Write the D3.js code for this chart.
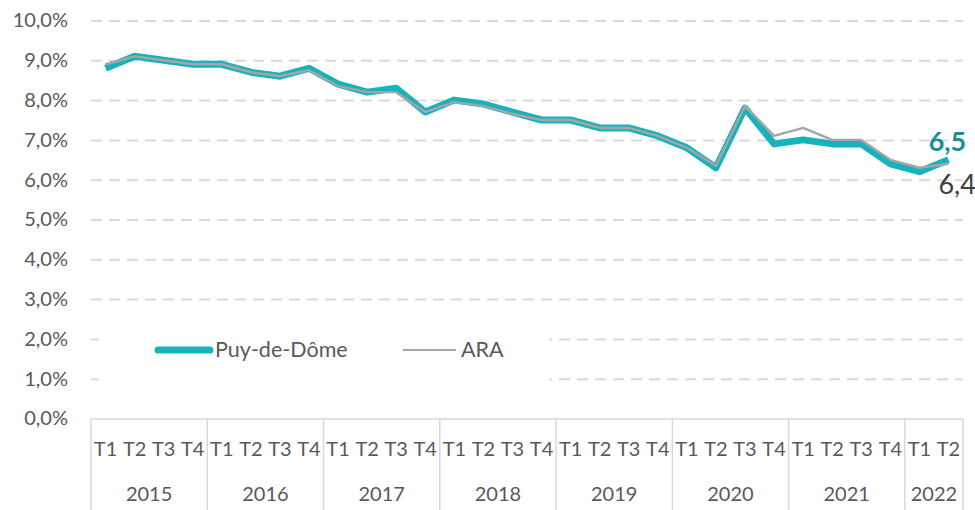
<!DOCTYPE html>
<html>
    <head>
        <meta charset="utf-8"/>
        <script src="https://d3js.org/d3.v7.min.js"></script>
        <style>
            body { margin: 0; background: #fff; }
            text { font-family: Lato, "Noto Sans", sans-serif; fill: #595959; }
        </style>
    </head>
    <body>
        <div id="chart"></div>
        <script type="text/javascript">
            // Years and how many quarters each one has on the axis
            var years = ["2015", "2016", "2017", "2018", "2019", "2020", "2021", "2022"];
            var quartersPerYear = [4, 4, 4, 4, 4, 4, 4, 2];
            var quarterLabels = ["T1", "T2", "T3", "T4"];

            // Unemployment rate, in %
            var puyDeDome = [8.8, 9.1, 9.0, 8.9, 8.9, 8.7, 8.6, 8.8, 8.4, 8.2, 8.3, 7.7,
                             8.0, 7.9, 7.7, 7.5, 7.5, 7.3, 7.3, 7.1, 6.8, 6.3, 7.8, 6.9,
                             7.0, 6.9, 6.9, 6.4, 6.2, 6.5];
            var ara = [8.9, 9.1, 9.0, 8.9, 8.9, 8.7, 8.6, 8.75, 8.35, 8.2, 8.2, 7.7,
                       7.95, 7.85, 7.65, 7.5, 7.5, 7.3, 7.3, 7.1, 6.8, 6.35, 7.85, 7.1,
                       7.3, 7.0, 7.0, 6.5, 6.3, 6.4];
            var yTicks = [0, 1, 2, 3, 4, 5, 6, 7, 8, 9, 10];

            var width = 975, height = 510;
            var plotLeft = 91, plotRight = 963, plotTop = 20.5, plotBottom = 418.5;

            var categories = [];
            years.forEach(function(yr, i) {
                for (var q = 0; q < quartersPerYear[i]; q++) categories.push(yr + " " + quarterLabels[q]);
            });

            var fr = d3.formatLocale({decimal: ",", thousands: " ", grouping: [3], currency: ["", " €"]});
            var pct = fr.format(".1f");

            var x = d3.scaleBand().domain(categories).range([plotLeft, plotRight]);
            var y = d3.scaleLinear().domain([0, 10]).range([plotBottom, plotTop]);

            var svg = d3.select("#chart").append("svg")
                .attr("width", width)
                .attr("height", height);

            // y axis with dashed grid
            var yAxis = svg.append("g")
                .attr("transform", "translate(" + plotLeft + ",0)")
                .call(d3.axisLeft(y).tickValues(yTicks)
                    .tickSize(-(plotRight - plotLeft))
                    .tickPadding(23)
                    .tickFormat(function(d) { return pct(d) + "%"; }));
            yAxis.select(".domain").remove();
            yAxis.selectAll(".tick line")
                .attr("stroke", "#d9d9d9")
                .attr("stroke-width", 2)
                .attr("stroke-dasharray", "11,7")
                .attr("display", function(d) { return d === 0 ? "none" : null; });
            yAxis.selectAll(".tick text")
                .attr("fill", "#595959")
                .style("font-size", "20px");

            // x axis: quarters
            var xAxis = svg.append("g")
                .attr("transform", "translate(0," + plotBottom + ")")
                .call(d3.axisBottom(x).tickSize(0).tickPadding(23)
                    .tickFormat(function(d) { return d.split(" ")[1]; }));
            xAxis.select(".domain").attr("stroke", "#d9d9d9").attr("stroke-width", 1.5);
            xAxis.selectAll(".tick text")
                .attr("fill", "#595959")
                .style("font-size", "20px");

            // year groups
            var start = 0;
            var groups = years.map(function(yr, i) {
                var g = {year: yr, first: categories[start], last: categories[start + quartersPerYear[i] - 1]};
                start += quartersPerYear[i];
                return g;
            });
            svg.append("g").selectAll("line")
                .data([groups[0].first].concat(groups.map(function(g) { return g.last; })))
                .enter().append("line")
                .attr("x1", function(d, i) { return i === 0 ? x(d) : x(d) + x.bandwidth(); })
                .attr("x2", function(d, i) { return i === 0 ? x(d) : x(d) + x.bandwidth(); })
                .attr("y1", plotBottom)
                .attr("y2", height)
                .attr("stroke", "#d9d9d9")
                .attr("stroke-width", 1.5);
            svg.append("g").selectAll("text")
                .data(groups)
                .enter().append("text")
                .attr("x", function(g) { return (x(g.first) + x(g.last) + x.bandwidth()) / 2; })
                .attr("y", 501)
                .attr("text-anchor", "middle")
                .style("font-size", "20px")
                .text(function(g) { return g.year; });

            // legend box (hides the grid behind it)
            var legend = svg.append("g");
            legend.append("rect")
                .attr("x", 99).attr("y", 310).attr("width", 450).attr("height", 82)
                .attr("fill", "#fff");
            legend.append("line")
                .attr("x1", 158).attr("x2", 210).attr("y1", 350).attr("y2", 350)
                .attr("stroke", "#17b3bc").attr("stroke-width", 7).attr("stroke-linecap", "round");
            legend.append("text").attr("x", 215).attr("y", 357).style("font-size", "21.5px").text("Puy-de-Dôme");
            legend.append("line")
                .attr("x1", 403).attr("x2", 456).attr("y1", 350).attr("y2", 350)
                .attr("stroke", "#a5a5a5").attr("stroke-width", 2);
            legend.append("text").attr("x", 461).attr("y", 357).style("font-size", "21.5px").text("ARA");

            // lines
            var line = d3.line()
                .x(function(d, i) { return x(categories[i]) + x.bandwidth() / 2; })
                .y(function(d) { return y(d); });

            svg.append("path")
                .datum(puyDeDome)
                .attr("d", line)
                .attr("fill", "none")
                .attr("stroke", "#17b3bc")
                .attr("stroke-width", 7)
                .attr("stroke-linejoin", "round");
            svg.append("path")
                .datum(ara)
                .attr("d", line)
                .attr("fill", "none")
                .attr("stroke", "#a5a5a5")
                .attr("stroke-width", 2.4)
                .attr("stroke-linejoin", "round");

            // end labels
            var n = categories.length - 1;
            var xl = x(categories[n]) + x.bandwidth() / 2;
            svg.append("text")
                .attr("x", xl - 1)
                .attr("y", y(puyDeDome[n]) - 9)
                .attr("text-anchor", "middle")
                .style("font-size", "27px")
                .style("font-weight", 700)
                .style("fill", "#178e94")
                .text(fr.format(".1f")(puyDeDome[n]));
            svg.append("text")
                .attr("x", xl - 10)
                .attr("y", y(ara[n]) + 30)
                .style("font-size", "27px")
                .style("fill", "#404040")
                .text(fr.format(".1f")(ara[n]));
        </script>
    </body>
</html>
